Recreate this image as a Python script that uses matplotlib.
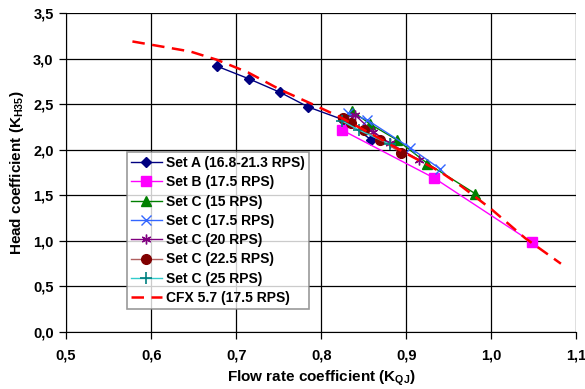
import matplotlib
matplotlib.use("Agg")
import matplotlib.pyplot as plt
from matplotlib.ticker import FuncFormatter, MultipleLocator

plt.rcParams['font.family'] = ['Liberation Sans', 'DejaVu Sans']
plt.rcParams['font.weight'] = 'bold'
plt.rcParams['axes.labelweight'] = 'bold'
plt.rcParams['mathtext.fontset'] = 'custom'
plt.rcParams['mathtext.bf'] = 'Liberation Sans:bold'
plt.rcParams['mathtext.rm'] = 'Liberation Sans:bold'
plt.rcParams['mathtext.default'] = 'bf'

# dados
a_x = [0.677, 0.715, 0.752, 0.785, 0.826, 0.859]
a_y = [2.92, 2.78, 2.63, 2.47, 2.33, 2.11]

b_x = [0.824, 0.933, 1.048]
b_y = [2.22, 1.69, 0.985]

c15_x = [0.836, 0.858, 0.889, 0.925, 0.981]
c15_y = [2.43, 2.28, 2.11, 1.85, 1.52]

c175_x = [0.832, 0.854, 0.905, 0.940]
c175_y = [2.40, 2.33, 2.02, 1.79]

c20_x = [0.826, 0.840, 0.861, 0.881, 0.915]
c20_y = [2.35, 2.38, 2.20, 2.07, 1.89]

c225_x = [0.826, 0.835, 0.850, 0.869, 0.894]
c225_y = [2.35, 2.30, 2.22, 2.11, 1.97]

c25_x = [0.824, 0.844, 0.881]
c25_y = [2.32, 2.22, 2.06]

cfx_x = [0.578, 0.646, 0.677, 0.714, 0.752, 0.790, 0.820, 0.860, 0.900, 0.940, 0.965, 1.000, 1.040, 1.082]
cfx_y = [3.19, 3.08, 2.99, 2.85, 2.66, 2.50, 2.37, 2.17, 1.96, 1.76, 1.60, 1.35, 1.03, 0.75]

fig = plt.figure(figsize=(5.85, 3.89), dpi=100)
ax = fig.add_axes([0.113, 0.1465, 0.872, 0.8195])

ax.plot(a_x, a_y, color='#000080', lw=1, marker='D', ms=5.5, label='Set A (16.8-21.3 RPS)')
ax.plot(b_x, b_y, color='#FF00FF', lw=1, marker='s', ms=7, label='Set B (17.5 RPS)')
ax.plot(c15_x, c15_y, color='#008000', lw=1, marker='^', ms=7, label='Set C (15 RPS)')
ax.plot(c175_x, c175_y, color='#3366FF', lw=1, marker='x', ms=7, mew=1, label='Set C (17.5 RPS)')
ax.plot(c20_x, c20_y, color='#800080', lw=1, marker=(6, 2, 0), ms=7, mew=1, label='Set C (20 RPS)')
ax.plot(c225_x, c225_y, color='#B06060', lw=1, marker='o', ms=7, mfc='#800000', mec='#800000', label='Set C (22.5 RPS)')
ax.plot(c25_x, c25_y, color='#33CCCC', lw=1, marker='+', ms=8, mew=1.2, mec='#008080', label='Set C (25 RPS)')
ax.plot(cfx_x, cfx_y, color='#FF0000', lw=1.8, ls=(0, (5, 3)), label='CFX 5.7 (17.5 RPS)')

ax.set_xlim(0.5, 1.1)
ax.set_ylim(0, 3.5)
ax.xaxis.set_major_locator(MultipleLocator(0.1))
ax.yaxis.set_major_locator(MultipleLocator(0.5))
fmt = FuncFormatter(lambda v, p: f'{v:.1f}'.replace('.', ','))
ax.xaxis.set_major_formatter(fmt)
ax.yaxis.set_major_formatter(fmt)
ax.grid(True, color='black', lw=0.9)
ax.set_axisbelow(True)
ax.tick_params(direction='out', length=5, width=0.9, labelsize=10.5, pad=4)
ax.tick_params(axis='x', pad=7)
ax.spines['top'].set_visible(False)
ax.spines['right'].set_visible(False)

ax.set_xlabel('Flow rate coefficient (K$_{QJ}$)', fontsize=11, labelpad=4)
ax.set_ylabel('Head coefficient (K$_{H35}$)', fontsize=11, labelpad=5)

leg = ax.legend(loc='upper left', bbox_to_anchor=(0.119, 0.565), fontsize=10,
                frameon=True, fancybox=False, edgecolor='#808080',
                handlelength=2.2, borderpad=0.3, labelspacing=0.38, handletextpad=0.3,
                borderaxespad=0)
leg.get_frame().set_linewidth(1.2)

fig.savefig('out.png', dpi=100)
